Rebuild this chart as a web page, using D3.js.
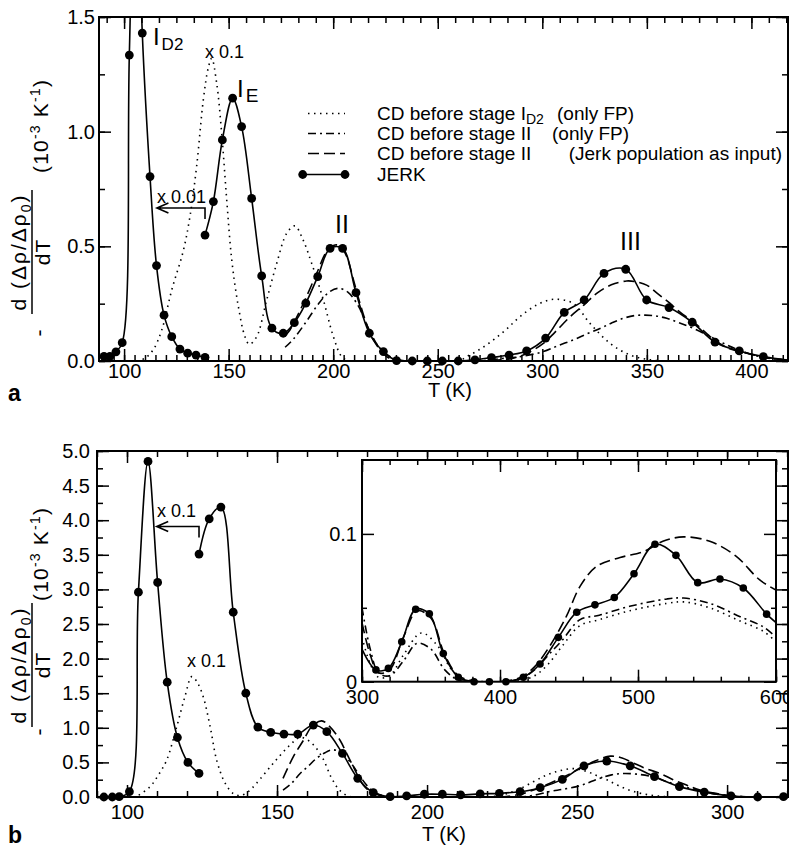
<!DOCTYPE html>
<head>
<meta charset="utf-8">
<script src="https://d3js.org/d3.v7.min.js"></script>
<style>
  body { margin: 0; background: #fff; }
  svg { font-family: "Liberation Sans", Arial, Helvetica, sans-serif; }
</style>
</head>
<body>
<script>
// ---------- panel a : values [T (K), value] ----------
var aJerkLow = [[90.4,0.02],[93.2,0.02],[96.1,0.04],[99.1,0.08],[102.5,1.334],[105.6,2.4],[108.7,1.43],
  [112.4,0.804],[115.5,0.416],[119.1,0.20],[122.8,0.106],[126.7,0.052],[130.4,0.034],[134.4,0.026],[138.7,0.016]];
var aJerkHigh = [[138.7,0.549],[142.7,0.695],[147,0.964],[151.9,1.146],[156.2,1.022],[161,0.709],[165.8,0.371],
  [170.7,0.143],[176.1,0.121],[181.4,0.167],[186.9,0.252],[192.6,0.368],[198.5,0.491],[204.5,0.491],[210.9,0.298],
  [217.3,0.121],[224,0.041],[230.3,0.002],[237.8,0],[245,0],[252.2,0],[259.8,0],[267.8,0.005],[275.7,0.015],
  [284.1,0.026],[292.5,0.044],[301.6,0.10],[310.5,0.212],[320,0.266],[329.5,0.382],[339.9,0.40],[349.9,0.266],
  [360.6,0.233],[371.7,0.169],[382.6,0.082],[394.2,0.044],[405.7,0.019],[418,0.003]];
var aDotted = [[106,0],[110,0.012],[114,0.05],[118,0.135],[122.8,0.31],[128.3,0.48],[131.5,0.63],[134.7,0.85],
  [137.9,1.14],[140.3,1.28],[141.9,1.32],[144.3,1.21],[146.7,0.99],[149.1,0.70],[151.5,0.44],[154.6,0.24],
  [157.8,0.106],[159.9,0.073],[163.4,0.106],[168.2,0.266],[173,0.426],[177.8,0.557],[181.7,0.589],[185.5,0.53],
  [189.7,0.426],[195.3,0.266],[200.1,0.106],[204.1,0.019],[208,0],[230,0],[260,0],[263.8,0.019],[270,0.05],
  [276.6,0.092],[283,0.14],[289.3,0.193],[297.3,0.244],[305.3,0.269],[314.8,0.251],[322.8,0.164],[332.4,0.077],
  [342,0.026],[351.6,0.005],[360,0],[390,0],[418,0]];
var aDashDot = [[177,0.06],[180.9,0.095],[187,0.17],[193,0.25],[198,0.30],[202.4,0.317],[207,0.30],[212,0.24],
  [217,0.14],[222,0.06],[228,0.015],[235,0],[255,0],[270,0],[280,0.01],[290,0.02],[300.5,0.041],[307,0.065],
  [314.8,0.092],[321,0.117],[327.6,0.142],[333,0.165],[338.7,0.186],[344,0.198],[349.1,0.20],[354,0.197],
  [359.5,0.186],[365,0.168],[372.3,0.142],[380,0.108],[386.6,0.077],[394,0.048],[401,0.026],[408,0.012],[418,0.003]];
var aDashed = [[177,0.11],[179.3,0.135],[182.5,0.19],[186.5,0.266],[192.1,0.382],[196.9,0.477],[200.9,0.506],
  [203.5,0.5],[206.5,0.455],[209.5,0.36],[212.8,0.252],[216,0.16],[219.2,0.092],[225.6,0.019],[232,0],[250,0],
  [270,0],[280,0.005],[286.1,0.012],[293,0.035],[300.5,0.077],[306,0.125],[313.3,0.193],[320,0.245],[326,0.295],
  [333,0.332],[340.3,0.349],[345,0.345],[349.9,0.331],[355,0.295],[361,0.252],[366,0.212],[372.3,0.171],
  [378,0.125],[383.4,0.084],[390,0.052],[397.8,0.034],[405,0.018],[413.7,0.007],[418,0.004]];

// ---------- panel b ----------
var bJerkLow = [[92.3,0],[95.1,0],[97.4,0.005],[100.8,0.077],[103.8,2.96],[107,4.85],[110.2,3.10],[113.4,1.66],
  [116.8,0.86],[120.3,0.50],[124,0.34]];
var bJerkHigh = [[124,3.51],[127.4,4.02],[131.3,4.19],[135.4,2.67],[139.6,1.50],[143.6,1.01],[147.9,0.935],
  [152.3,0.91],[156.9,0.91],[162.1,1.04],[166.6,0.944],[171.8,0.63],[176.9,0.27],[182.1,0.062],[187.7,0.005],
  [193.2,0.015],[199.1,0.04],[205.1,0.04],[211.2,0.03],[217.7,0.045],[224.1,0.053],[231,0.077],[237.7,0.135],
  [245.1,0.255],[252.3,0.45],[259.9,0.52],[267.7,0.45],[275.8,0.295],[284.1,0.15],[292.4,0.07],[301.3,0.015],
  [310.2,0.0],[318.8,0.005],[321,0.005]];
var bDotted = [[100,0],[103,0.01],[107.7,0.15],[110.5,0.32],[113.2,0.53],[116.6,1.02],[119.3,1.45],[121.6,1.74],
  [123.5,1.65],[125.4,1.45],[127.7,1.02],[129.9,0.53],[132.7,0.2],[135.4,0.05],[137.8,0.02],[140.5,0.08],
  [143.2,0.2],[148.8,0.49],[154.3,0.75],[157.7,0.86],[161,0.8],[165,0.58],[168,0.29],[170.8,0.10],[174,0.01],
  [178,0],[200,0],[220,0],[225,0.03],[230,0.1],[235.4,0.22],[240,0.32],[244.3,0.38],[248.8,0.41],[253.2,0.37],
  [256.5,0.31],[259.9,0.25],[264,0.16],[268.8,0.08],[274,0.03],[280,0.005],[285,0],[300,0],[321,0]];
var bDashDot = [[152,0.1],[154.9,0.2],[157.7,0.34],[160.5,0.45],[163.2,0.56],[166,0.64],[168.2,0.68],[170,0.67],
  [172.1,0.61],[174.5,0.5],[176.6,0.37],[178.3,0.26],[179.9,0.17],[181.5,0.1],[183.2,0.05],[186,0.01],[190,0],
  [210,0],[230,0],[235,0.02],[241,0.08],[245,0.11],[249.9,0.15],[254,0.21],[257.7,0.27],[261.5,0.32],[265.4,0.34],
  [270,0.33],[275.4,0.29],[280,0.22],[285.4,0.15],[291,0.09],[296.6,0.04],[301,0.02],[305,0.005],[310,0],[321,0]];
var bDashed = [[152,0.27],[155.4,0.58],[158.8,0.82],[161.6,1.02],[164.9,1.10],[167.5,1.02],[171,0.82],
  [173.2,0.63],[175.4,0.44],[177,0.3],[178.8,0.17],[181,0.08],[183.2,0.04],[186,0.01],[190,0],[208,0],[225,0],
  [231,0.04],[236,0.11],[241,0.2],[246,0.3],[251,0.41],[256,0.52],[261.1,0.59],[265,0.565],[268.8,0.49],[273,0.41],
  [277.7,0.34],[282,0.25],[286.6,0.17],[291,0.1],[296.6,0.05],[301,0.02],[305,0.005],[310,0],[321,0]];

// ---------- inset of panel b ----------
var iJerk = [[300,0.022],[310.1,0.008],[319.1,0.009],[328.8,0.027],[338.9,0.049],[348.8,0.046],[358.9,0.019],
  [369.8,0.003],[381.2,0],[392.3,0],[404.3,0],[416.9,0.003],[429,0.012],[442.3,0.030],[455.6,0.047],[468.8,0.052],
  [482.8,0.057],[497.1,0.073],[512.3,0.093],[527.5,0.0855],[543.3,0.067],[559.4,0.0695],[576.3,0.0634],
  [593.2,0.0457],[600,0.040]];
var iDashed = [[300,0.04],[306,0.018],[312,0.006],[320,0.008],[330,0.03],[340,0.048],[350,0.043],[360,0.018],
  [370,0.004],[385,0],[400,0],[415,0.003],[425,0.01],[436,0.024],[448,0.044],[458,0.0645],[470,0.078],[487,0.084],
  [504,0.088],[518,0.095],[533,0.098],[552,0.095],[571,0.085],[588,0.069],[600,0.062]];
var iDashDot = [[300,0.05],[306,0.022],[312,0.006],[320,0.004],[330,0.014],[340,0.026],[350,0.022],[360,0.008],
  [370,0.001],[385,0],[400,0],[415,0.002],[425,0.008],[435,0.018],[445,0.028],[458,0.042],[472,0.045],[494,0.051],
  [521,0.056],[533,0.0566],[552,0.053],[574,0.044],[591,0.037],[600,0.030]];
var iDotted = [[300,0.03],[306,0.012],[312,0.003],[320,0.004],[330,0.018],[343,0.033],[355,0.024],[365,0.008],
  [375,0.001],[390,0],[410,0],[425,0.004],[435,0.012],[445,0.024],[458,0.038],[472,0.042],[494,0.048],
  [521,0.053],[533,0.054],[552,0.05],[574,0.041],[591,0.034],[600,0.027]];

// ---------- ticks ----------
var aMajorX = [100, 150, 200, 250, 300, 350, 400];
var aMajorY = [0, 0.5, 1.0, 1.5];
var bMajorX = [100, 150, 200, 250, 300];
var bMajorY = [0, 0.5, 1.0, 1.5, 2.0, 2.5, 3.0, 3.5, 4.0, 4.5, 5.0];
var iMajorX = [300, 400, 500, 600];
var iMajorY = [0, 0.1];
var iLabelsY = ['0', '0.1'];

var legendLabels = ['CD before stage I', 'CD before stage II', 'CD before stage II', 'JERK'];
var legendNotes = ['(only FP)', '(only FP)', '(Jerk population as input)', ''];

var DOT = '1.5,4.5', DASHDOT = '8,4,2,4', DASH = '11,5';

var svg = d3.select('body').append('svg').attr('width', 789).attr('height', 849);
var defs = svg.append('defs');

// scales
var ax = d3.scaleLinear().domain([88, 417.5]).range([99, 788]);
var ay = d3.scaleLinear().domain([0, 1.5]).range([361, 17]);
var bx = d3.scaleLinear().domain([90, 320.3]).range([97, 788]);
var by = d3.scaleLinear().domain([0, 5]).range([797, 451]);
var ix = d3.scaleLinear().domain([300, 600]).range([362, 776]);
var iy = d3.scaleLinear().domain([0, 0.15]).range([681.7, 460]);

function clip(id, x, y) {
  defs.append('clipPath').attr('id', id).append('rect')
    .attr('x', x.range()[0]).attr('y', y.range()[1])
    .attr('width', x.range()[1] - x.range()[0]).attr('height', y.range()[0] - y.range()[1]);
}
clip('clipA', ax, ay); clip('clipB', bx, by); clip('clipI', ix, iy);

function frame(x, y, o) {
  var g = svg.append('g');
  var x0 = x.range()[0], x1 = x.range()[1], y0 = y.range()[0], y1 = y.range()[1];
  if (o.fill) g.append('rect').attr('x', x0).attr('y', y1).attr('width', x1 - x0).attr('height', y0 - y1)
    .attr('fill', '#fff');
  function ax_(axis, tr) {
    var s = g.append('g').attr('transform', tr).call(axis);
    s.select('.domain').remove();
    s.attr('font-size', o.font).attr('font-family', null);
    s.selectAll('line').attr('stroke-width', 1.5);
    return s;
  }
  var big = o.big, small = o.small;
  ax_(d3.axisBottom(x).tickValues(o.xMinor).tickSize(-small).tickFormat(''), 'translate(0,' + y0 + ')');
  ax_(d3.axisBottom(x).tickValues(o.xMajor).tickSize(-big).tickPadding(o.xPad).tickFormat(d3.format('d')),
    'translate(0,' + y0 + ')');
  ax_(d3.axisTop(x).tickValues(o.xMinorTop || o.xMinor).tickSize(-small).tickFormat(''), 'translate(0,' + y1 + ')');
  ax_(d3.axisTop(x).tickValues(o.xMajor).tickSize(-big).tickFormat(''), 'translate(0,' + y1 + ')');
  ax_(d3.axisLeft(y).tickValues(o.yMinor).tickSize(-small).tickFormat(''), 'translate(' + x0 + ',0)');
  ax_(d3.axisLeft(y).tickValues(o.yMajor).tickSize(-big).tickPadding(o.yPad).tickFormat(o.fmtY),
    'translate(' + x0 + ',0)');
  ax_(d3.axisRight(y).tickValues(o.yMinor).tickSize(-small).tickFormat(''), 'translate(' + x1 + ',0)');
  ax_(d3.axisRight(y).tickValues(o.yMajor).tickSize(-big).tickFormat(''), 'translate(' + x1 + ',0)');
  g.append('rect').attr('x', x0).attr('y', y1).attr('width', x1 - x0).attr('height', y0 - y1)
    .attr('fill', 'none').attr('stroke', '#000').attr('stroke-width', 2);
  return g;
}

var lineGen = function (x, y) {
  return d3.line().x(d => x(d[0])).y(d => y(d[1])).curve(d3.curveCatmullRom.alpha(0.5));
};
function curve(g, x, y, data, dash, clipId) {
  g.append('path').attr('d', lineGen(x, y)(data)).attr('fill', 'none').attr('stroke', '#000')
    .attr('stroke-width', 1.6).attr('stroke-dasharray', dash).attr('clip-path', 'url(#' + clipId + ')');
}
function dots(g, x, y, data, r) {
  var xd = x.domain(), yd = y.domain();
  g.selectAll(null).data(data.filter(d => d[0] > xd[0] + 0.5 && d[0] < xd[1] - 0.5 && d[1] <= yd[1]))
    .enter().append('circle').attr('cx', d => x(d[0])).attr('cy', d => y(d[1])).attr('r', r).attr('fill', '#000');
}

// ---------- panel a ----------
var ga = frame(ax, ay, {
  xMajor: aMajorX, xMinor: d3.range(90, 418, 5), xMinorTop: d3.range(0, 40).map(i => 91.6667 + i * 50 / 6).filter(t => t < 417),
  yMajor: aMajorY, yMinor: d3.range(0, 1.51, 0.25), fmtY: d3.format('.1f'),
  big: 12, small: 6, xPad: 3, yPad: 4, font: 20
});
curve(ga, ax, ay, aDotted, DOT, 'clipA');
curve(ga, ax, ay, aDashDot, DASHDOT, 'clipA');
curve(ga, ax, ay, aDashed, DASH, 'clipA');
curve(ga, ax, ay, aJerkLow, null, 'clipA');
curve(ga, ax, ay, aJerkHigh, null, 'clipA');
dots(ga, ax, ay, aJerkLow, 4.4);
dots(ga, ax, ay, aJerkHigh, 4.4);

// ---------- panel b ----------
var gb = frame(bx, by, {
  xMajor: bMajorX, xMinor: d3.range(90, 321, 10),
  yMajor: bMajorY, yMinor: d3.range(0, 5.01, 0.25), fmtY: d3.format('.1f'),
  big: 12, small: 6, xPad: 8, yPad: 7, font: 20
});
curve(gb, bx, by, bDotted, DOT, 'clipB');
curve(gb, bx, by, bDashDot, DASHDOT, 'clipB');
curve(gb, bx, by, bDashed, DASH, 'clipB');
curve(gb, bx, by, bJerkLow, null, 'clipB');
curve(gb, bx, by, bJerkHigh, null, 'clipB');
dots(gb, bx, by, bJerkLow, 4.4);
dots(gb, bx, by, bJerkHigh, 4.4);

// ---------- inset ----------
var gi = frame(ix, iy, {
  fill: true, xMajor: iMajorX, xMinor: d3.range(300, 601, 20),
  yMajor: iMajorY, yMinor: [0.05], fmtY: (d, i) => iLabelsY[i],
  big: 12, small: 5, xPad: 8, yPad: 5, font: 20
});
curve(gi, ix, iy, iDotted, DOT, 'clipI');
curve(gi, ix, iy, iDashDot, DASHDOT, 'clipI');
curve(gi, ix, iy, iDashed, DASH, 'clipI');
curve(gi, ix, iy, iJerk, null, 'clipI');
dots(gi, ix, iy, iJerk, 3.8);

// ---------- axis titles ----------
function yTitle(cNum, yUnits, yMinus) {
  var g = svg.append('g').attr('transform', 'rotate(-90)').attr('font-size', 21);
  // local x = -screen y, local y = screen x
  var u = g.append('text').attr('x', -yUnits).attr('y', 48).attr('letter-spacing', 1.2);
  u.append('tspan').text('(10');
  u.append('tspan').attr('font-size', 14).attr('dy', -8).text('-3');
  u.append('tspan').attr('dy', 8).text(' K');
  u.append('tspan').attr('font-size', 14).attr('dy', -8).text('-1');
  u.append('tspan').attr('dy', 8).text(')');
  var n = g.append('text').attr('x', -cNum).attr('y', 26).attr('text-anchor', 'middle').attr('letter-spacing', 2);
  n.append('tspan').text('d (\u0394\u03c1/\u0394\u03c1');
  n.append('tspan').attr('font-size', 14).attr('dy', 5).text('0');
  n.append('tspan').attr('dy', -5).text(')');
  g.append('line').attr('x1', -cNum - 62).attr('x2', -cNum + 62).attr('y1', 32).attr('y2', 32)
    .attr('stroke', '#000').attr('stroke-width', 1.5);
  g.append('text').attr('x', -cNum).attr('y', 50).attr('text-anchor', 'middle').attr('letter-spacing', 1).text('dT');
  g.append('text').attr('x', -yMinus).attr('y', 46).attr('text-anchor', 'middle').text('-');
}
yTitle(252, 173, 333);
yTitle(665, 601, 732);

svg.append('text').attr('x', 450).attr('y', 397).attr('text-anchor', 'middle').attr('font-size', 20).text('T (K)');
svg.append('text').attr('x', 444).attr('y', 841).attr('text-anchor', 'middle').attr('font-size', 20).text('T (K)');
svg.append('text').attr('x', 8).attr('y', 401).attr('font-size', 23).attr('font-weight', 'bold').text('a');
svg.append('text').attr('x', 8).attr('y', 843).attr('font-size', 23).attr('font-weight', 'bold').text('b');

// ---------- annotations ----------
function label(x, y, main, sub, size, subSize, dy) {
  var t = svg.append('text').attr('x', x).attr('y', y).attr('font-size', size).text(main);
  if (sub) t.append('tspan').attr('font-size', subSize).attr('dy', dy).attr('dx', 2).text(sub);
}
label(ax(113.8), 45, 'I', 'D2', 24, 17, 5);
label(ax(138.7), 58, 'x 0.1', null, 18);
label(ax(154), 97, 'I', 'E', 24, 19, 5);
label(ax(200.9), 233, 'II', null, 25);
label(ax(337.2), 250, 'III', null, 25);
label(ax(115.7), 203, 'x 0.01', null, 18);
label(bx(110), 517, 'x 0.1', null, 18);
label(bx(120), 667, 'x 0.1', null, 18);

function arrow(x, y, tEnd, tTip, vLine, drop) {
  var xe = x(tEnd), xt = x(tTip), yl = y(vLine);
  var p = d3.path();
  p.moveTo(xe, yl + drop); p.lineTo(xe, yl); p.lineTo(xt, yl);
  p.moveTo(xt + 11.5, yl - 5); p.lineTo(xt, yl); p.lineTo(xt + 11.5, yl + 5);
  svg.append('path').attr('d', p.toString()).attr('fill', 'none').attr('stroke', '#000').attr('stroke-width', 1.6);
}
arrow(ax, ay, 138.7, 115.7, 0.667, 11);
arrow(bx, by, 124, 109.9, 3.91, 11);

// ---------- legend ----------
var legY = [113.5, 133.5, 153.5, 174.5];
var legDash = [DOT, DASHDOT, DASH, null];
var leg = svg.append('g').attr('font-size', 19);
legY.forEach(function (ly, i) {
  leg.append('line').attr('x1', i === 3 ? 302.7 : 308).attr('x2', 345).attr('y1', ly).attr('y2', ly)
    .attr('stroke', '#000').attr('stroke-width', 1.6).attr('stroke-dasharray', legDash[i]);
  var t = leg.append('text').attr('x', 377).attr('y', ly + 6.5).text(legendLabels[i]);
  if (i === 0) t.append('tspan').attr('font-size', 14).attr('dy', 4).text('D2');
  if (legendNotes[i]) leg.append('text').attr('x', i === 2 ? 782 : [557, 552][i])
    .attr('text-anchor', i === 2 ? 'end' : 'start').attr('y', ly + 6.5).text(legendNotes[i]);
});
leg.selectAll('circle').data([302.7, 345]).enter().append('circle')
  .attr('cx', d => d).attr('cy', legY[3]).attr('r', 4.4).attr('fill', '#000');
</script>
</body>
